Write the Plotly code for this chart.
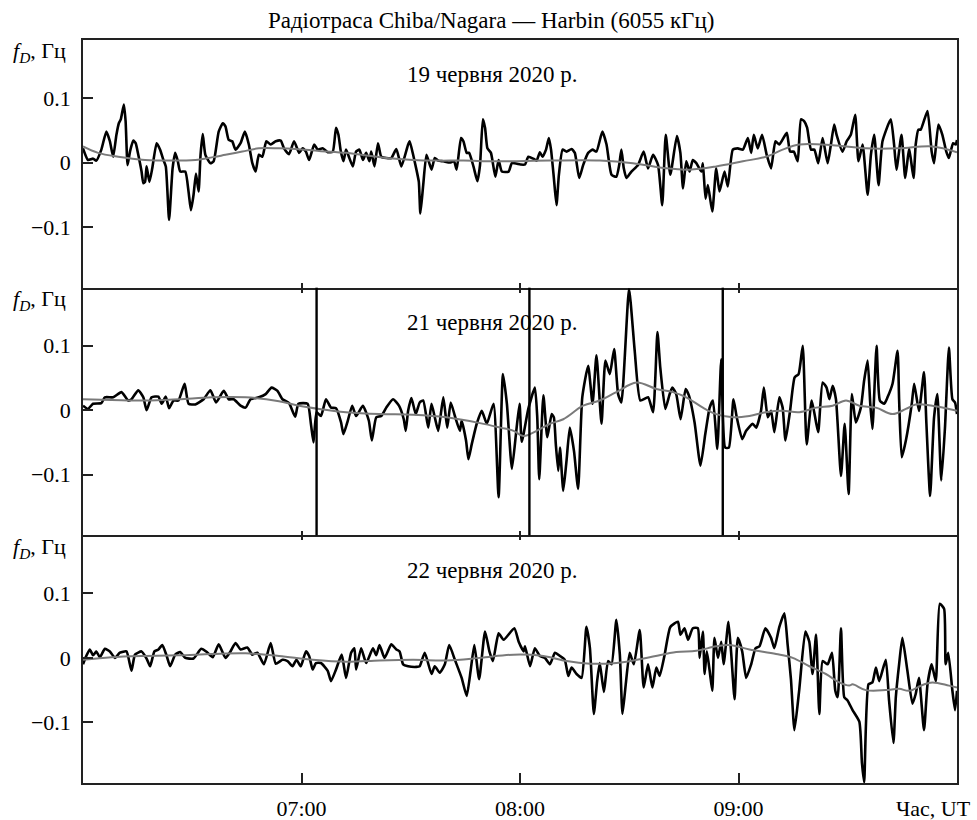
import plotly.graph_objects as go
from plotly.subplots import make_subplots

TITLE = "Радіотраса Chiba/Nagara — Harbin (6055 кГц)"
DATES = ["19 червня 2020 р.", "21 червня 2020 р.", "22 червня 2020 р."]
YLABEL = "<i>f</i><sub><i>D</i></sub>, Гц"
XLABEL = "Час, UT"
XTICKS = [7, 8, 9]
XTICKTEXT = ["07:00", "08:00", "09:00"]
YTICKS = [0.1, 0, -0.1]
YTICKTEXT = ["0.1", "0", "\u22120.1"]
EVENTS_21 = [7.069, 8.043, 8.928]   # vertical markers, 21 June (hours UT)

# ---------------- 19 June: black (raw) ----------------
p1_t = [6.000, 6.023, 6.046, 6.061, 6.084, 6.107, 6.123, 6.138, 6.153, 6.164,
        6.173, 6.187, 6.195, 6.204, 6.215, 6.230, 6.241, 6.253, 6.268, 6.276,
        6.284, 6.291, 6.304, 6.317, 6.337, 6.353, 6.368, 6.379, 6.394, 6.410,
        6.422, 6.434, 6.445, 6.468, 6.483, 6.494, 6.506, 6.517, 6.529, 6.538,
        6.548, 6.560, 6.583, 6.598, 6.621, 6.640, 6.652, 6.667, 6.683, 6.698,
        6.721, 6.741, 6.759, 6.775, 6.790, 6.805, 6.821, 6.839, 6.859, 6.882,
        6.905, 6.920, 6.943, 6.966, 6.989, 7.005, 7.020, 7.035, 7.058, 7.074,
        7.097, 7.120, 7.143, 7.158, 7.169, 7.180, 7.192, 7.204, 7.219, 7.235,
        7.250, 7.265, 7.281, 7.296, 7.311, 7.319, 7.334, 7.350, 7.365, 7.388,
        7.411, 7.434, 7.457, 7.488, 7.495, 7.511, 7.526, 7.537, 7.544, 7.557,
        7.572, 7.595, 7.610, 7.626, 7.649, 7.679, 7.698, 7.710, 7.730, 7.741,
        7.756, 7.767, 7.787, 7.805, 7.817, 7.830, 7.840, 7.851, 7.867, 7.887,
        7.902, 7.917, 7.948, 7.963, 8.002,
        8.023, 8.038, 8.061, 8.076, 8.091, 8.103, 8.119, 8.132, 8.142, 8.155,
        8.167, 8.178, 8.195, 8.213, 8.236, 8.251, 8.271, 8.289, 8.312, 8.332,
        8.350, 8.377, 8.396, 8.419, 8.441, 8.454, 8.464, 8.475, 8.487, 8.510,
        8.540, 8.566, 8.586, 8.609, 8.632, 8.651, 8.667, 8.688, 8.718, 8.734,
        8.746, 8.761, 8.776, 8.791, 8.807, 8.830, 8.837, 8.849, 8.860, 8.880,
        8.898, 8.913, 8.936, 8.951, 8.974, 8.997, 9.020, 9.043, 9.058, 9.070,
        9.088, 9.108, 9.129, 9.149, 9.169, 9.187, 9.221, 9.236, 9.253, 9.271,
        9.286, 9.301, 9.314, 9.332, 9.347, 9.365, 9.385, 9.408, 9.423, 9.438,
        9.449, 9.476, 9.495, 9.514, 9.534, 9.549, 9.568, 9.591, 9.606, 9.621,
        9.641, 9.659, 9.697, 9.712, 9.723, 9.746, 9.763, 9.781, 9.801, 9.811,
        9.823, 9.834, 9.865, 9.884, 9.895, 9.915, 9.933, 9.951, 9.963, 9.982,
        9.994, 10.000]
p1_v = [0.022, 0.004, 0.006, 0.003, 0.020, 0.048, 0.033, 0.009, 0.043, 0.061,
        0.067, 0.090, 0.064, -0.004, 0.017, 0.034, 0.030, 0.012, -0.014, -0.032,
        -0.030, -0.006, -0.030, -0.009, 0.030, 0.020, 0.004, -0.006, -0.089, -0.009,
        0.015, 0.002, -0.014, -0.014, -0.045, -0.074, -0.050, -0.017, -0.045, 0.012,
        0.044, 0.012, -0.001, 0.002, 0.048, 0.061, 0.056, 0.035, 0.033, 0.020,
        0.030, 0.048, 0.028, -0.001, -0.014, 0.012, 0.009, 0.033, 0.028, 0.033,
        0.034, 0.022, 0.013, 0.033, 0.015, 0.022, 0.017, 0.004, 0.028, 0.020,
        0.022, 0.016, 0.017, 0.054, 0.043, 0.017, 0.002, 0.020, 0.007, -0.006,
        0.017, 0.020, 0.004, 0.015, 0.002, 0.017, -0.006, 0.030, 0.009, 0.007,
        0.007, 0.021, -0.006, 0.028, 0.033, 0.012, -0.011, -0.030, -0.079, -0.035,
        0.012, -0.011, 0.007, 0.003, 0.002, 0.000, 0.002, -0.011, 0.038, 0.033,
        0.015, 0.015, -0.006, -0.029, -0.004, 0.067, 0.054, 0.022, 0.015, -0.022,
        0.004, -0.014, -0.014, -0.001, -0.003,
        -0.003, 0.009, 0.006, 0.003, 0.016, 0.009, 0.020, 0.038, 0.020, -0.024,
        -0.066, -0.019, 0.020, 0.017, 0.021, 0.015, -0.024, -0.004, 0.015, 0.020,
        0.017, 0.048, 0.028, -0.019, -0.022, -0.004, 0.020, -0.009, -0.024, -0.014,
        -0.004, 0.017, -0.009, 0.012, -0.004, -0.066, 0.043, -0.019, 0.041, 0.015,
        -0.040, 0.002, -0.014, 0.004, -0.001, -0.014, -0.001, -0.056, -0.035, -0.076,
        -0.009, -0.045, -0.014, -0.037, 0.020, 0.022, 0.020, 0.038, 0.015, 0.043,
        0.022, 0.043, 0.012, -0.009, 0.033, 0.028, 0.046, 0.017, 0.017, 0.002,
        0.067, 0.064, 0.054, 0.020, 0.020, -0.001, 0.038, -0.001, 0.028, 0.059,
        0.043, 0.017, 0.033, 0.043, 0.074, 0.002, 0.028, -0.050, 0.012, 0.043,
        -0.035, 0.033, 0.067, 0.028, -0.011, 0.043, -0.024, 0.022, -0.024, 0.028,
        0.051, 0.051, 0.080, 0.017, -0.001, 0.059, 0.043, 0.017, 0.007, 0.030,
        0.028, 0.035]

# 19 June: grey (smoothed)
p1s_t = [6.000, 6.069, 6.161, 6.284, 6.406, 6.514, 6.590, 6.652, 6.729, 6.805,
         6.897, 6.974, 7.081, 7.204, 7.296, 7.388, 7.511, 7.618, 7.741, 7.894,
         8.137, 8.365, 8.517, 8.670, 8.776, 8.898, 9.020, 9.126, 9.202, 9.279,
         9.431, 9.583, 9.735, 9.887, 10.000]
p1s_v = [0.025, 0.015, 0.009, 0.004, 0.003, 0.004, 0.008, 0.012, 0.017, 0.022,
         0.022, 0.021, 0.018, 0.015, 0.011, 0.007, 0.004, 0.003, 0.003, 0.002,
         0.003, 0.003, -0.001, -0.009, -0.011, -0.006, 0.002, 0.009, 0.020, 0.028,
         0.027, 0.022, 0.022, 0.025, 0.016]

# ---------------- 21 June: black (raw) ----------------
p2_t = [6.000, 6.023, 6.046, 6.084, 6.100, 6.138, 6.176, 6.207, 6.222, 6.253,
        6.276, 6.291, 6.314, 6.345, 6.360, 6.379, 6.394, 6.414, 6.437, 6.465,
        6.483, 6.514, 6.552, 6.583, 6.609, 6.644, 6.667, 6.690, 6.721, 6.744,
        6.767, 6.805, 6.836, 6.863, 6.890, 6.913, 6.943, 6.971, 6.986, 7.028,
        7.043, 7.055, 7.069, 7.089, 7.112, 7.135, 7.158, 7.181, 7.192, 7.212,
        7.232, 7.250, 7.281, 7.308, 7.322, 7.342, 7.365, 7.388, 7.419, 7.446,
        7.468, 7.477, 7.488, 7.503, 7.523, 7.541, 7.557, 7.580, 7.595, 7.610,
        7.626, 7.649, 7.667, 7.683, 7.702, 7.725, 7.733, 7.753, 7.764, 7.779,
        7.802, 7.825, 7.848, 7.879, 7.902, 7.922, 7.940, 7.963, 7.983, 7.998,
        8.008,
        8.038, 8.068, 8.079, 8.088, 8.107, 8.125, 8.145, 8.155, 8.164, 8.175,
        8.183, 8.198, 8.213, 8.228, 8.247, 8.266, 8.285, 8.312, 8.332, 8.350,
        8.373, 8.391, 8.411, 8.431, 8.449, 8.464, 8.499, 8.525, 8.551, 8.586,
        8.609, 8.629, 8.642, 8.665, 8.685, 8.697, 8.715, 8.735, 8.758, 8.773,
        8.799, 8.826, 8.848, 8.868, 8.883, 8.903, 8.921, 8.939, 8.956, 8.977,
        8.992, 9.017, 9.035, 9.065, 9.081, 9.103, 9.116, 9.134, 9.149, 9.164,
        9.187, 9.202, 9.215, 9.236, 9.257, 9.275, 9.294, 9.312, 9.335, 9.355,
        9.365, 9.385, 9.403, 9.416, 9.431, 9.446, 9.469, 9.486, 9.504, 9.519,
        9.537, 9.560, 9.575, 9.591, 9.603, 9.613, 9.632, 9.647, 9.667, 9.682,
        9.705, 9.728, 9.735, 9.747, 9.766, 9.793, 9.804, 9.826, 9.849, 9.860,
        9.877, 9.895, 9.910, 9.928, 9.945, 9.963, 9.979, 9.991, 10.000]
p2_v = [0.007, 0.002, 0.010, 0.011, 0.020, 0.020, 0.028, 0.015, 0.017, 0.031,
        0.020, 0.000, 0.020, 0.021, 0.010, 0.021, 0.003, 0.015, 0.015, 0.041,
        0.010, 0.009, 0.017, 0.031, 0.012, 0.030, 0.017, 0.017, 0.007, 0.004,
        0.017, 0.020, 0.025, 0.035, 0.030, 0.017, 0.011, -0.010, 0.010, 0.010,
        -0.021, -0.050, -0.003, -0.009, 0.017, 0.004, 0.003, -0.019, -0.037, -0.016,
        0.007, -0.009, 0.007, -0.016, -0.047, -0.011, -0.009, 0.004, 0.017, 0.007,
        -0.014, -0.032, -0.001, 0.019, -0.006, 0.012, 0.015, -0.027, 0.010, -0.011,
        -0.032, 0.020, -0.027, 0.012, -0.009, -0.032, -0.016, -0.047, -0.076, -0.053,
        -0.021, -0.001, -0.021, 0.010, -0.135, 0.056, 0.010, -0.091, -0.032, 0.010,
        -0.049,
        0.002, 0.035, -0.011, -0.107, 0.023, -0.042, -0.006, -0.011, -0.053, -0.094,
        -0.058, -0.125, -0.078, -0.027, -0.063, -0.122, 0.020, 0.069, 0.010, 0.085,
        -0.021, 0.077, 0.056, 0.095, 0.025, 0.012, 0.188, 0.092, 0.015, 0.020,
        -0.003, 0.121, 0.066, 0.002, 0.025, 0.035, 0.025, -0.014, 0.033, 0.023,
        -0.019, -0.086, -0.037, 0.004, 0.015, -0.060, 0.079, -0.058, -0.058, 0.017,
        -0.011, -0.045, -0.032, -0.021, -0.027, -0.001, 0.035, -0.011, -0.001, -0.034,
        0.020, 0.004, -0.047, -0.001, 0.051, 0.056, 0.100, -0.053, 0.015, -0.019,
        -0.034, 0.043, 0.035, 0.017, 0.038, 0.017, -0.102, -0.021, -0.130, 0.025,
        -0.019, 0.004, 0.046, 0.077, 0.010, -0.029, 0.100, 0.015, 0.010, 0.020,
        0.041, 0.092, 0.017, -0.073, -0.047, 0.010, 0.041, -0.001, 0.059, -0.021,
        -0.133, -0.011, 0.025, -0.109, -0.027, 0.097, 0.017, 0.012, -0.006]

# 21 June: grey (smoothed)
p2s_t = [6.000, 6.130, 6.284, 6.437, 6.590, 6.744, 6.897, 6.989, 7.081, 7.204,
         7.357, 7.511, 7.664, 7.817, 7.910, 7.971, 8.015, 8.076, 8.137, 8.198,
         8.289, 8.365, 8.441, 8.533, 8.624, 8.700, 8.761, 8.837, 8.898, 8.974,
         9.050, 9.126, 9.202, 9.279, 9.355, 9.431, 9.492, 9.553, 9.629, 9.705,
         9.766, 9.811, 9.887, 9.963, 10.000]
p2s_v = [0.017, 0.016, 0.015, 0.017, 0.020, 0.020, 0.014, 0.007, 0.002, -0.003,
         -0.006, -0.007, -0.011, -0.020, -0.027, -0.032, -0.040, -0.032, -0.021, -0.014,
         0.007, 0.015, 0.028, 0.043, 0.033, 0.028, 0.020, 0.004, -0.006, -0.011,
         -0.009, -0.003, -0.001, -0.003, 0.004, 0.007, 0.015, 0.007, 0.004, -0.006,
         0.002, 0.009, 0.007, 0.002, -0.001]

# ---------------- 22 June: black (raw) ----------------
p3_t = [6.000, 6.011, 6.031, 6.046, 6.061, 6.077, 6.100, 6.123, 6.146, 6.169,
        6.199, 6.222, 6.238, 6.268, 6.291, 6.307, 6.327, 6.345, 6.363, 6.383,
        6.399, 6.422, 6.445, 6.468, 6.506, 6.541, 6.567, 6.594, 6.621, 6.652,
        6.675, 6.698, 6.721, 6.752, 6.775, 6.798, 6.828, 6.859, 6.882, 6.913,
        6.936, 6.959, 6.977, 6.997, 7.020, 7.035, 7.051, 7.066, 7.089, 7.120,
        7.135, 7.158, 7.184, 7.204, 7.227, 7.242, 7.250, 7.273, 7.296, 7.327,
        7.342, 7.357, 7.380, 7.411, 7.434, 7.449, 7.465, 7.488, 7.526, 7.541,
        7.564, 7.595, 7.610, 7.633, 7.656, 7.676, 7.702, 7.733, 7.756, 7.774,
        7.791, 7.813, 7.840, 7.860, 7.876, 7.902, 7.925, 7.974, 7.994, 8.017,
        8.023, 8.046, 8.068, 8.091, 8.114, 8.137, 8.160, 8.183, 8.205, 8.221,
        8.236, 8.259, 8.282, 8.304, 8.320, 8.338, 8.353, 8.365, 8.384, 8.403,
        8.419, 8.441, 8.457, 8.469, 8.484, 8.502, 8.521, 8.548, 8.566, 8.586,
        8.606, 8.624, 8.639, 8.662, 8.688, 8.723, 8.734, 8.753, 8.769, 8.791,
        8.814, 8.822, 8.837, 8.845, 8.855, 8.868, 8.880, 8.890, 8.906, 8.921,
        8.932, 8.954, 8.967, 8.982, 8.997, 9.017, 9.035, 9.058, 9.078, 9.096,
        9.123, 9.149, 9.164, 9.187, 9.210, 9.225, 9.240, 9.256, 9.279, 9.306,
        9.324, 9.339, 9.355, 9.370, 9.385, 9.408, 9.428, 9.443, 9.454, 9.469,
        9.484, 9.499, 9.522, 9.553, 9.565, 9.575, 9.595, 9.613, 9.629, 9.644,
        9.674, 9.689, 9.709, 9.720, 9.735, 9.750, 9.773, 9.796, 9.811, 9.826,
        9.849, 9.865, 9.884, 9.903, 9.921, 9.941, 9.948, 9.960, 9.979, 9.991,
        10.000]
p3_v = [-0.010, 0.000, 0.013, 0.004, 0.010, 0.001, 0.014, 0.010, 0.000, 0.008,
        0.010, -0.020, 0.005, 0.010, -0.001, -0.013, 0.010, 0.013, 0.020, 0.003,
        -0.013, 0.005, 0.009, 0.000, -0.001, 0.014, 0.009, 0.001, 0.021, 0.000,
        0.010, 0.023, 0.013, 0.016, 0.005, 0.008, -0.010, 0.023, -0.009, -0.003,
        -0.005, -0.013, -0.003, -0.013, 0.010, 0.003, -0.018, -0.008, -0.008, -0.020,
        -0.036, -0.018, 0.005, -0.031, 0.008, 0.015, -0.018, 0.015, -0.008, 0.015,
        0.004, 0.020, 0.000, 0.021, 0.013, 0.010, -0.010, -0.013, -0.014, -0.013,
        0.008, -0.025, -0.013, -0.023, -0.010, 0.020, -0.003, -0.031, -0.059, -0.020,
        0.020, -0.033, 0.041, 0.010, -0.005, 0.038, 0.028, 0.046, 0.025, 0.010,
        0.018, -0.013, 0.015, 0.003, 0.000, -0.010, 0.008, 0.003, -0.003, -0.028,
        -0.015, -0.025, -0.031, 0.048, 0.015, -0.087, -0.036, -0.008, -0.053, -0.005,
        -0.010, 0.059, 0.005, -0.087, -0.041, 0.008, -0.010, 0.043, -0.046, -0.010,
        -0.046, -0.015, -0.028, 0.005, 0.048, 0.056, 0.036, 0.046, 0.028, 0.046,
        0.046, 0.000, 0.041, -0.025, 0.010, -0.020, -0.051, 0.031, 0.000, 0.025,
        -0.010, 0.056, 0.005, -0.064, 0.031, 0.010, -0.031, -0.010, 0.015, 0.018,
        0.046, 0.031, 0.015, 0.048, 0.069, 0.020, -0.033, -0.112, -0.046, 0.041,
        0.025, -0.025, 0.036, -0.087, -0.005, -0.010, 0.008, -0.051, -0.061, 0.046,
        -0.061, -0.066, -0.081, -0.099, -0.163, -0.193, -0.041, -0.038, -0.015, -0.036,
        -0.003, -0.066, -0.132, -0.061, -0.010, 0.031, -0.020, -0.071, -0.056, -0.031,
        -0.112, -0.041, -0.010, -0.036, 0.084, 0.076, -0.010, 0.008, -0.051, -0.081,
        -0.051]

# 22 June: grey (smoothed)
p3s_t = [6.000, 6.130, 6.284, 6.437, 6.590, 6.744, 6.897, 7.051, 7.204, 7.357,
         7.511, 7.664, 7.817, 7.971, 8.107, 8.213, 8.320, 8.441, 8.594, 8.715,
         8.807, 8.898, 8.959, 9.050, 9.172, 9.248, 9.324, 9.400, 9.461, 9.507,
         9.522, 9.583, 9.674, 9.735, 9.781, 9.842, 9.887, 9.963, 10.000]
p3s_v = [-0.003, 0.001, 0.003, 0.004, 0.006, 0.007, 0.003, -0.003, -0.006, -0.004,
         -0.003, -0.004, 0.000, 0.005, 0.003, -0.005, -0.009, -0.008, 0.001, 0.009,
         0.011, 0.018, 0.020, 0.013, 0.006, 0.000, -0.013, -0.025, -0.038, -0.043,
         -0.041, -0.050, -0.050, -0.048, -0.051, -0.042, -0.038, -0.043, -0.046]

RAW = [(p1_t, p1_v), (p2_t, p2_v), (p3_t, p3_v)]
SMOOTH = [(p1s_t, p1s_v), (p2s_t, p2s_v), (p3s_t, p3s_v)]

FONT = "Liberation Serif, Times New Roman, serif"
FS_TICK = 22
FS_TEXT = 23
YR = [-0.194, 0.19]
XR = [6, 10]
AXC = "#222"

fig = make_subplots(rows=3, cols=1, vertical_spacing=0)

for i in range(3):
    r = i + 1
    fig.add_trace(go.Scatter(x=RAW[i][0], y=RAW[i][1], mode="lines",
                             line=dict(color="black", width=2.6, shape="spline",
                                       smoothing=0.5),
                             showlegend=False, hoverinfo="skip"), row=r, col=1)
    fig.add_trace(go.Scatter(x=SMOOTH[i][0], y=SMOOTH[i][1], mode="lines",
                             line=dict(color="#7a7a7a", width=2, shape="spline"),
                             showlegend=False, hoverinfo="skip"), row=r, col=1)

for i in range(3):
    r = i + 1
    fig.update_xaxes(row=r, col=1, range=XR, tickvals=XTICKS, ticktext=XTICKTEXT,
                     showticklabels=(r == 3), ticks="inside", automargin=False,
                     ticklen=10 if r == 3 else 5, tickwidth=1.5, tickcolor=AXC,
                     showline=True, linecolor=AXC, linewidth=1.5,
                     mirror=(r == 1),
                     showgrid=False, zeroline=False,
                     tickfont=dict(family=FONT, size=FS_TICK, color="black"),
                     ticklabelstandoff=5)
    fig.update_yaxes(row=r, col=1, range=YR, tickvals=YTICKS, ticktext=YTICKTEXT,
                     ticks="inside", ticklen=10, tickwidth=1.5, tickcolor=AXC,
                     automargin=False,
                     showline=True, linecolor=AXC, linewidth=1.5, mirror=True,
                     showgrid=False, zeroline=False,
                     tickfont=dict(family=FONT, size=FS_TICK, color="black"),
                     ticklabelstandoff=6)

# short ticks along the top edge of the 2nd and 3rd panels
top_tick_axis = dict(side="top", range=XR, tickvals=XTICKS, ticks="inside", ticklen=5,
                     tickwidth=1.5, tickcolor=AXC, showticklabels=False,
                     automargin=False,
                     showline=False, showgrid=False, zeroline=False)
fig.update_layout(xaxis4=dict(overlaying="x2", anchor="y2", **top_tick_axis),
                  xaxis5=dict(overlaying="x3", anchor="y3", **top_tick_axis))
fig.add_trace(go.Scatter(x=[], y=[], xaxis="x4", yaxis="y2", showlegend=False,
                         hoverinfo="skip"))
fig.add_trace(go.Scatter(x=[], y=[], xaxis="x5", yaxis="y3", showlegend=False,
                         hoverinfo="skip"))

# vertical event lines on 21 June
for tx in EVENTS_21:
    fig.add_shape(type="line", xref="x2", yref="y2 domain", x0=tx, x1=tx, y0=0, y1=1,
                  line=dict(color="black", width=2.4))

yrefs = ["y domain", "y2 domain", "y3 domain"]
xrefs = ["x domain", "x2 domain", "x3 domain"]
for i in range(3):
    fig.add_annotation(text=DATES[i], xref=xrefs[i], yref=yrefs[i], x=0.468, y=0.86,
                       xanchor="center", yanchor="middle", showarrow=False,
                       font=dict(family=FONT, size=FS_TEXT, color="black"))
    fig.add_annotation(text=YLABEL, xref="paper", yref=yrefs[i], x=-0.017, y=0.95,
                       xanchor="right", yanchor="middle", showarrow=False,
                       font=dict(family=FONT, size=FS_TICK, color="black"))

fig.add_annotation(text=XLABEL, xref="paper", yref="paper", x=1.018, y=-0.034,
                   xanchor="right", yanchor="middle", showarrow=False,
                   font=dict(family=FONT, size=FS_TICK, color="black"))

fig.update_layout(
    width=977, height=820,
    margin=dict(l=83, r=20, t=40, b=37),
    paper_bgcolor="white", plot_bgcolor="white",
    title=dict(text=TITLE, x=0.467, xref="paper", xanchor="center",
               y=1 - 20 / 820, yanchor="middle",
               font=dict(family=FONT, size=FS_TEXT, color="black")),
    font=dict(family=FONT, size=FS_TICK, color="black"),
)

fig.write_html("out.html")
